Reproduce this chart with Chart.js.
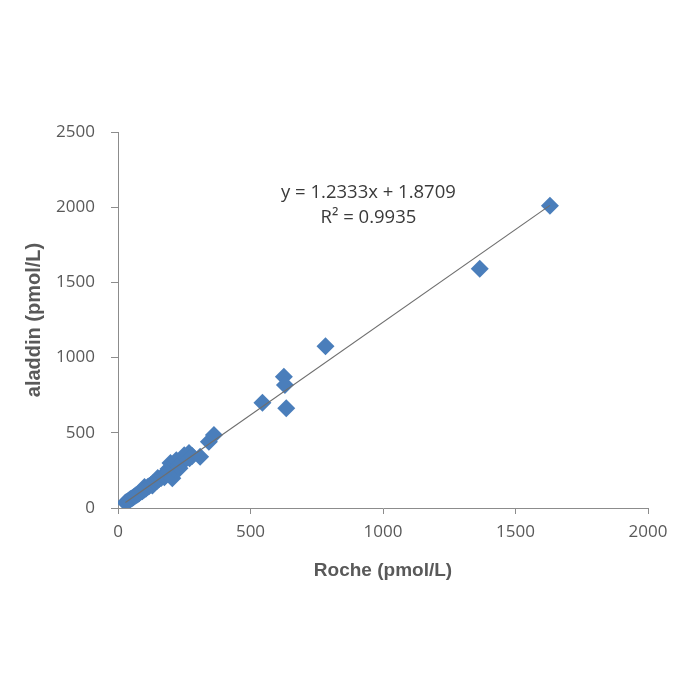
<!DOCTYPE html>
<html>
<head>
<meta charset="utf-8">
<script src="https://cdn.jsdelivr.net/npm/chart.js@4/dist/chart.umd.min.js"></script>
<style>
  html, body { margin: 0; padding: 0; background: #ffffff; }
  canvas { display: block; }
</style>
</head>
<body>
<canvas id="c" width="700" height="700"></canvas>
<script>
// ---- data ----
const roche   = [28, 33, 38, 42, 47, 52, 58, 63, 68, 74, 80, 86, 92, 98, 100, 105, 112, 118, 125, 130,
                 132, 140, 148, 150, 155, 163, 170, 175, 178, 185, 190, 192, 198, 205, 212, 215, 220, 228,
                 232, 238, 248, 250, 258, 268, 270, 280, 310,
                 343, 362, 545, 626, 630, 635, 783, 1365, 1630];
const aladdin = [36, 40, 47, 52, 60, 63, 72, 78, 85, 90, 98, 108, 112, 122, 140, 128, 140, 146, 155, 150,
                 165, 172, 182, 200, 192, 200, 212, 205, 218, 230, 260, 240, 300, 198, 262, 295, 318, 280,
                 265, 300, 312, 350, 330, 365, 330, 345, 340,
                 440, 485, 700, 873, 818, 663, 1075, 1590, 2010];
const slope = 1.2333;
const intercept = 1.8709;
const rSquared = 0.9935;
const equationLines = ['y = 1.2333x + 1.8709', 'R\u00B2 = 0.9935'];
const xTitle = 'Roche (pmol/L)';
const yTitle = 'aladdin (pmol/L)';
const xTicks = [0, 500, 1000, 1500, 2000];
const yTicks = [0, 500, 1000, 1500, 2000, 2500];
// anchor of the equation label, in data units
const eqAnchorX = 945;
const eqAnchorY = [2094, 1930];

const points = roche.map((x, i) => ({ x: x, y: aladdin[i] }));
const xMin = Math.min(...roche), xMax = Math.max(...roche);
const trend = [
  { x: xMin, y: slope * xMin + intercept },
  { x: xMax, y: slope * xMax + intercept }
];

const grey = '#595959';
const axisCol = '#8c8c8c';
const tickFont = { family: "'Open Sans', sans-serif", size: 17 };
const titleFont = { family: "'Liberation Sans', Arial, sans-serif", size: 19, weight: 'bold' };

const equationPlugin = {
  id: 'equation',
  afterDatasetsDraw(chart) {
    const { ctx, scales } = chart;
    ctx.save();
    ctx.fillStyle = '#3a3a3a';
    ctx.font = "18.5px 'Open Sans', sans-serif";
    ctx.textAlign = 'center';
    ctx.textBaseline = 'middle';
    equationLines.forEach((t, i) => {
      ctx.fillText(t, scales.x.getPixelForValue(eqAnchorX), scales.y.getPixelForValue(eqAnchorY[i]));
    });
    ctx.restore();
  }
};

new Chart(document.getElementById('c'), {
  type: 'scatter',
  data: {
    datasets: [
      {
        type: 'line',
        data: trend,
        borderColor: '#6e6e6e',
        borderWidth: 1.2,
        pointRadius: 0,
        fill: false,
        order: 0
      },
      {
        data: points,
        pointStyle: 'rectRot',
        pointRadius: 9,
        pointHoverRadius: 9,
        backgroundColor: '#4A7EBB',
        borderColor: '#4A7EBB',
        borderWidth: 0,
        order: 1
      }
    ]
  },
  options: {
    responsive: false,
    animation: false,
    devicePixelRatio: 1,
    layout: { padding: { left: 0, right: 52, top: 132, bottom: 0 } },
    plugins: { legend: { display: false }, tooltip: { enabled: false } },
    scales: {
      x: {
        type: 'linear',
        min: 0, max: 2000,
        afterBuildTicks(scale) { scale.ticks = xTicks.map(v => ({ value: v })); },
        afterFit(scale) { scale.height = 192; },
        grid: { drawOnChartArea: false, drawTicks: true, tickLength: 6, color: axisCol },
        border: { color: axisCol, width: 1 },
        ticks: { color: grey, font: tickFont, padding: 8, maxRotation: 0, callback: v => String(v) },
        title: { display: true, text: xTitle, color: grey, font: titleFont, padding: { top: 0, bottom: 118 } }
      },
      y: {
        type: 'linear',
        min: 0, max: 2500,
        afterBuildTicks(scale) { scale.ticks = yTicks.map(v => ({ value: v })); },
        afterFit(scale) { scale.width = 118; },
        grid: { drawOnChartArea: false, drawTicks: true, tickLength: 7, color: axisCol },
        border: { color: axisCol, width: 1 },
        ticks: { color: grey, font: tickFont, padding: 16, callback: v => String(v) },
        title: { display: true, text: yTitle, color: grey, font: { family: "'Liberation Sans', Arial, sans-serif", size: 20, weight: 'bold' }, padding: { top: 22, bottom: 0 } }
      }
    }
  },
  plugins: [equationPlugin]
});
</script>
</body>
</html>
